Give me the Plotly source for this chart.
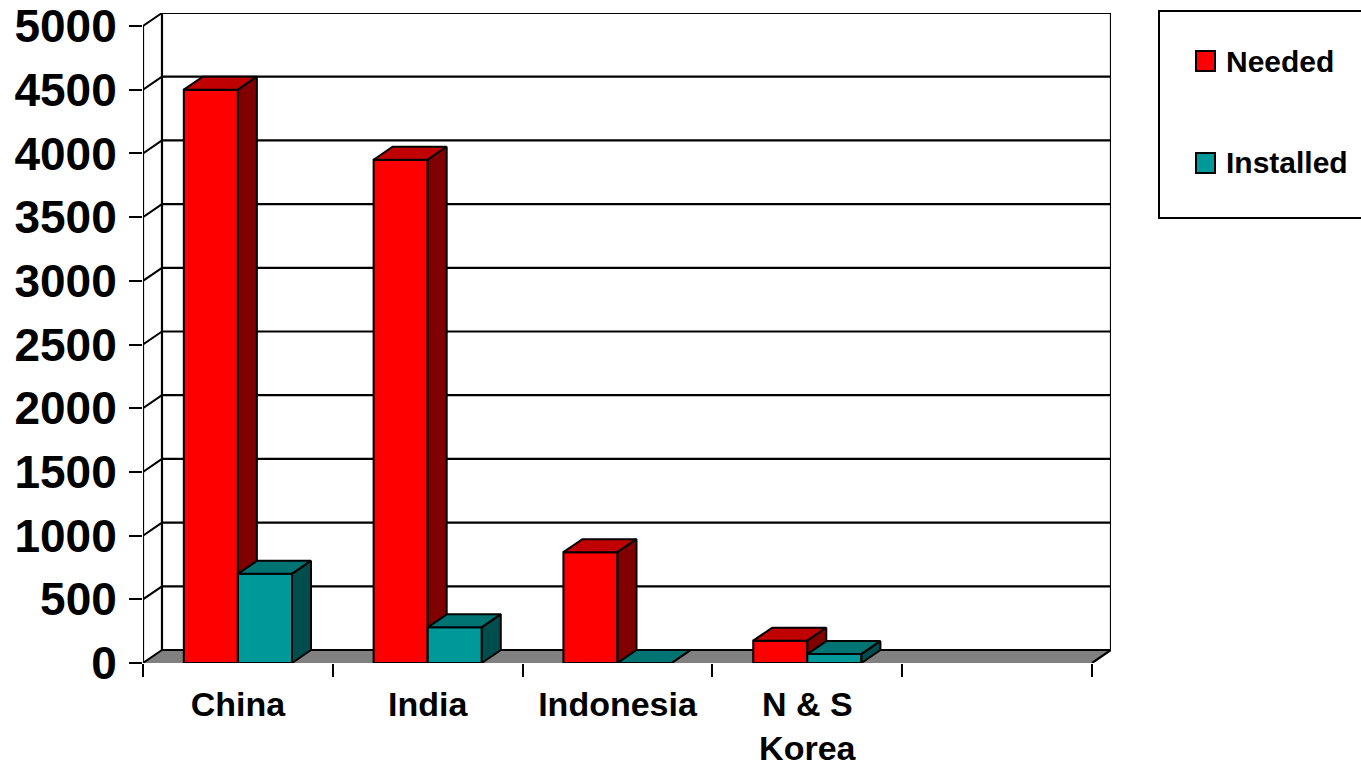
import plotly.graph_objects as go

# ---- data ----
categories = ["China", "India", "Indonesia", "N & S<br>Korea", ""]
needed = [4500, 3950, 870, 175, None]
installed = [700, 280, 0, 70, None]
series_names = ["Needed", "Installed"]
y_ticks = list(range(0, 5001, 500))

# ---- styling / geometry (in axis units) ----
BAR_W = 0.285        # width of one bar in category units
DX = 0.1             # depth offset along x (category units)
DY = 102             # depth offset along y (value units)
Y_MAX = 5000
n = len(categories)
X0, X1 = -0.5, n - 0.5

FRONT = {"Needed": "#FF0000", "Installed": "#009999"}
TOP = {"Needed": "#C00000", "Installed": "#007373"}
SIDE = {"Needed": "#800000", "Installed": "#004D4D"}
FONT = "Liberation Sans, Arial, sans-serif"

# plot-area placement in pixels (used to place the legend box in paper coords)
W, H = 1361, 766
ML, MR, MT, MB = 143, 250, 13, 103
PW, PH = W - ML - MR, H - MT - MB


def px_x(p):
    return (p - ML) / PW


def px_y(p):
    return (H - MB - p) / PH


def bar_faces(values, offset):
    fx, fy, tx, ty, sx, sy = [], [], [], [], [], []
    for i, v in enumerate(values):
        if v is None:
            continue
        a = i + offset
        b = a + BAR_W
        fx += [a, b, b, a, a, None]
        fy += [0, 0, v, v, 0, None]
        tx += [a, b, b + DX, a + DX, a, None]
        ty += [v, v, v + DY, v + DY, v, None]
        sx += [b, b + DX, b + DX, b, b, None]
        sy += [0, DY, v + DY, v, 0, None]
    return (fx, fy), (tx, ty), (sx, sy)


def poly(xy, color, width=2):
    return go.Scatter(
        x=xy[0], y=xy[1], mode="lines", fill="toself", fillcolor=color,
        line=dict(color="black", width=width), showlegend=False,
        hoverinfo="skip",
    )


def lines(xs, ys, width=2):
    return go.Scatter(x=xs, y=ys, mode="lines",
                      line=dict(color="black", width=width),
                      showlegend=False, hoverinfo="skip")


fig = go.Figure()

# floor
fig.add_trace(go.Scatter(
    x=[X0, X1, X1 + DX, X0 + DX, X0], y=[0, 0, DY, DY, 0],
    mode="lines", fill="toself", fillcolor="#808080",
    line=dict(width=0, color="rgba(0,0,0,0)"), showlegend=False, hoverinfo="skip"))

# back-wall gridlines, tick connectors, wall edges
gx, gy, cx, cy = [], [], [], []
for v in y_ticks:
    gx += [X0 + DX, X1 + DX, None]
    gy += [v + DY, v + DY, None]
    cx += [X0, X0 + DX, None]
    cy += [v, v + DY, None]
fig.add_trace(lines(gx, gy, 2.2))
fig.add_trace(lines(cx, cy, 2))
fig.add_trace(lines([X0 + DX, X0 + DX, None, X1 + DX, X1 + DX, None, X1, X1 + DX],
                    [DY, Y_MAX + DY, None, DY, Y_MAX + DY, None, 0, DY], 2.2))
fig.add_trace(lines([X0, X0], [0, Y_MAX], 2.2))

# bars (painter's order: needed, then installed)
for name, vals, off in [("Needed", needed, -BAR_W), ("Installed", installed, 0.0)]:
    front, top, side = bar_faces(vals, off)
    fig.add_trace(poly(front, FRONT[name]))
    fig.add_trace(poly(top, TOP[name]))
    fig.add_trace(poly(side, SIDE[name]))

# legend (box, swatches and real text labels)
shapes = [dict(type="rect", xref="paper", yref="paper",
               x0=px_x(1159), x1=px_x(1375), y0=px_y(218), y1=px_y(11),
               line=dict(color="black", width=2), fillcolor="white", layer="above")]
annotations = []
for k, name in enumerate(series_names):
    cy_px = 61 + 102 * k
    shapes.append(dict(type="rect", xref="paper", yref="paper",
                       x0=px_x(1196), x1=px_x(1215),
                       y0=px_y(cy_px + 10), y1=px_y(cy_px - 10),
                       line=dict(color="black", width=2),
                       fillcolor=FRONT[name], layer="above"))
    annotations.append(dict(xref="paper", yref="paper", x=px_x(1224), y=px_y(cy_px),
                            xanchor="left", yanchor="middle", text=name,
                            showarrow=False,
                            font=dict(family=FONT, size=30, color="black",
                                      weight="bold")))

fig.update_layout(
    width=W, height=H,
    margin=dict(l=ML, r=MR, t=MT, b=MB, autoexpand=False),
    paper_bgcolor="white", plot_bgcolor="white",
    showlegend=False,
    shapes=shapes, annotations=annotations,
    xaxis=dict(
        range=[X0, X1 + DX], tickmode="array", tickvals=list(range(n)),
        ticktext=categories, ticks="", showgrid=False, zeroline=False,
        showline=False, ticklabelstandoff=18, automargin=False,
        tickfont=dict(family=FONT, size=34, color="black", weight="bold"),
        minor=dict(tick0=-0.5, dtick=1, ticks="outside", ticklen=13,
                   tickwidth=2, tickcolor="black", showgrid=False),
        fixedrange=True,
    ),
    yaxis=dict(
        range=[0, Y_MAX + DY], tickmode="array", tickvals=y_ticks,
        ticks="outside", ticklen=13, tickwidth=2, tickcolor="black",
        showgrid=False, zeroline=False, showline=False, ticklabelstandoff=3,
        automargin=False,
        tickfont=dict(family=FONT, size=46, color="black", weight="bold"),
        fixedrange=True,
    ),
)

fig.write_html("out.html")
